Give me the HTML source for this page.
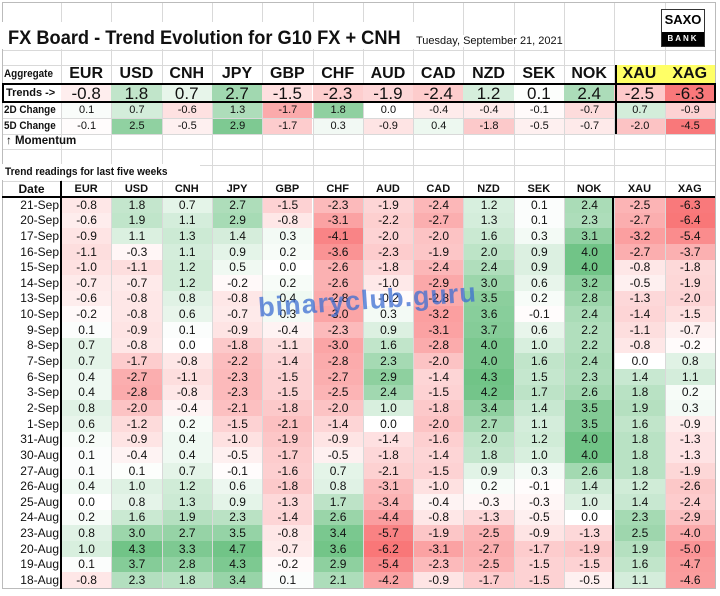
<!DOCTYPE html>
<html><head><meta charset="utf-8"><style>
body{margin:0;background:#fff;width:720px;height:596px;overflow:hidden;font-family:"Liberation Sans",sans-serif;}
#w{position:relative;width:720px;height:596px;}
.c{position:absolute;box-sizing:border-box;text-align:center;color:#111;white-space:nowrap;}
.g{position:absolute;background:#d9d9d9;}
.k{position:absolute;background:#000;}
</style></head><body><div id="w">
<div style="position:absolute;left:661px;top:9px;width:44px;height:38px;border:1px solid #333;box-sizing:border-box;background:#fff;z-index:3">
<div style="position:absolute;left:0;top:2px;width:42px;text-align:center;font:bold 13px 'Liberation Sans',sans-serif;">SAXO</div>
<div style="position:absolute;left:0;top:22px;width:42px;height:14px;background:#000;color:#fff;text-align:center;font:bold 8px 'Liberation Sans',sans-serif;letter-spacing:2px;line-height:14px;">BANK</div>
</div>
<div style="position:absolute;left:258px;top:285px;font:bold 27px 'Liberation Sans',sans-serif;color:rgba(60,110,210,0.75);transform:rotate(-4deg);letter-spacing:1px;z-index:5;">binaryclub.guru</div>
</div>
<script>
var W=document.getElementById('w');
function add(h){W.insertAdjacentHTML('beforeend',h);}
var cw=50.3,x0=61;
function cx(i){return x0+i*cw;}
var cur=["EUR","USD","CNH","JPY","GBP","CHF","AUD","CAD","NZD","SEK","NOK","XAU","XAG"];
function col(v,mx,mn){var t,r,g,b;if(v>=0){t=mx>0?v/mx:0;r=255+(99-255)*t;g=255+(190-255)*t;b=255+(123-255)*t;}else{t=mn<0?v/mn:0;r=255+(248-255)*t;g=255+(105-255)*t;b=255+(107-255)*t;}return 'rgb('+Math.round(r)+','+Math.round(g)+','+Math.round(b)+')';}
var hl=[50,65,84,102,118,134,149,165,181];
for(var i=0;i<hl.length;i++)add('<div class="g" style="left:2px;top:'+hl[i]+'px;width:713px;height:1px"></div>');
for(var i=0;i<=13;i++)add('<div class="g" style="left:'+Math.round(cx(i))+'px;top:2px;width:1px;height:586px"></div>');
add('<div style="position:absolute;left:2px;top:2px;width:714px;height:587px;border:1px solid #bbb;box-sizing:border-box"></div>');
add('<div class="c" style="left:0;top:22px;width:414px;height:27px;background:#fff"></div>');
add('<div class="c" style="left:8px;top:28px;font-size:19px;font-weight:bold;text-align:left;transform:scaleX(0.96);transform-origin:0 0;">FX Board - Trend Evolution for G10 FX + CNH</div>');
add('<div class="c" style="left:416px;top:35px;font-size:11px;text-align:left;background:#fff">Tuesday, September 21, 2021</div>');
add('<div class="c" style="left:616px;top:65px;width:99px;height:19px;background:#ffff66"></div>');
add('<div class="c" style="left:4px;top:68px;font-size:11px;font-weight:bold;text-align:left;transform:scaleX(0.9);transform-origin:0 0">Aggregate</div>');
for(var i=0;i<13;i++)add('<div class="c" style="left:'+cx(i)+'px;top:65px;width:'+cw+'px;font-size:16px;font-weight:bold;">'+cur[i]+'</div>');
var tr=[-0.8,1.8,0.7,2.7,-1.5,-2.3,-1.9,-2.4,1.2,0.1,2.4,-2.5,-6.3];
var d2=[0.1,0.7,-0.6,1.3,-1.7,1.8,0.0,-0.4,-0.4,-0.1,-0.7,0.7,-0.9];
var d5=[-0.1,2.5,-0.5,2.9,-1.7,0.3,-0.9,0.4,-1.8,-0.5,-0.7,-2.0,-4.5];
add('<div class="c" style="left:6px;top:87px;font-size:11px;font-weight:bold;text-align:left">Trends -&gt;</div>');
for(var i=0;i<13;i++)add('<div class="c" style="left:'+cx(i)+'px;top:85px;width:'+cw+'px;height:17px;background:'+col(tr[i],4.5,-7)+';font-size:17px;line-height:17px">'+tr[i].toFixed(1)+'</div>');
add('<div style="position:absolute;left:2px;top:83px;width:714px;height:20px;border:2px solid #000;box-sizing:border-box;z-index:2"></div>');
add('<div class="c" style="left:4px;top:104px;font-size:11px;font-weight:bold;text-align:left;transform:scaleX(0.9);transform-origin:0 0">2D Change</div>');
add('<div class="c" style="left:4px;top:120px;font-size:11px;font-weight:bold;text-align:left;transform:scaleX(0.9);transform-origin:0 0">5D Change</div>');
for(var i=0;i<13;i++){
add('<div class="c" style="left:'+(cx(i)+1)+'px;top:103px;width:'+(cw-1)+'px;height:15px;background:'+col(d2[i],2.5,-3)+';font-size:11px;line-height:15px">'+d2[i].toFixed(1)+'</div>');
add('<div class="c" style="left:'+(cx(i)+1)+'px;top:119px;width:'+(cw-1)+'px;height:15px;background:'+col(d5[i],3.5,-5)+';font-size:11px;line-height:15px">'+d5[i].toFixed(1)+'</div>');}
add('<div class="k" style="left:615px;top:65px;width:1.5px;height:69px"></div>');
add('<div class="c" style="left:6px;top:135px;font-size:11.5px;font-weight:bold;text-align:left">&#8593; Momentum</div>');
add('<div class="c" style="left:0;top:164px;width:200px;height:16px;background:#fff;"></div>');
add('<div class="c" style="left:5px;top:166px;font-size:11px;font-weight:bold;text-align:left;transform:scaleX(0.92);transform-origin:0 0">Trend readings for last five weeks</div>');
add('<div class="c" style="left:2px;top:182px;width:59px;font-size:12px;font-weight:bold;">Date</div>');
for(var i=0;i<13;i++)add('<div class="c" style="left:'+cx(i)+'px;top:183px;width:'+cw+'px;font-size:11px;font-weight:bold;">'+cur[i]+'</div>');
var D=[["21-Sep",-0.8,1.8,0.7,2.7,-1.5,-2.3,-1.9,-2.4,1.2,0.1,2.4,-2.5,-6.3],
["20-Sep",-0.6,1.9,1.1,2.9,-0.8,-3.1,-2.2,-2.7,1.3,0.1,2.3,-2.7,-6.4],
["17-Sep",-0.9,1.1,1.3,1.4,0.3,-4.1,-2.0,-2.0,1.6,0.3,3.1,-3.2,-5.4],
["16-Sep",-1.1,-0.3,1.1,0.9,0.2,-3.6,-2.3,-1.9,2.0,0.9,4.0,-2.7,-3.7],
["15-Sep",-1.0,-1.1,1.2,0.5,0.0,-2.6,-1.8,-2.4,2.4,0.9,4.0,-0.8,-1.8],
["14-Sep",-0.7,-0.7,1.2,-0.2,0.2,-2.6,-1.0,-2.9,3.0,0.6,3.2,-0.5,-1.9],
["13-Sep",-0.6,-0.8,0.8,-0.8,0.4,-2.8,-0.2,-2.8,3.5,0.2,2.8,-1.3,-2.0],
["10-Sep",-0.2,-0.8,0.6,-0.7,0.3,-3.0,0.3,-3.2,3.6,-0.1,2.4,-1.4,-1.5],
["9-Sep",0.1,-0.9,0.1,-0.9,-0.4,-2.3,0.9,-3.1,3.7,0.6,2.2,-1.1,-0.7],
["8-Sep",0.7,-0.8,0.0,-1.8,-1.1,-3.0,1.6,-2.8,4.0,1.0,2.2,-0.8,-0.2],
["7-Sep",0.7,-1.7,-0.8,-2.2,-1.4,-2.8,2.3,-2.0,4.0,1.6,2.4,0.0,0.8],
["6-Sep",0.4,-2.7,-1.1,-2.3,-1.5,-2.7,2.9,-1.4,4.3,1.5,2.3,1.4,1.1],
["3-Sep",0.4,-2.8,-0.8,-2.3,-1.5,-2.5,2.4,-1.5,4.2,1.7,2.6,1.8,0.2],
["2-Sep",0.8,-2.0,-0.4,-2.1,-1.8,-2.0,1.0,-1.8,3.4,1.4,3.5,1.9,0.3],
["1-Sep",0.6,-1.2,0.2,-1.5,-2.1,-1.4,0.0,-2.0,2.7,1.1,3.5,1.6,-0.9],
["31-Aug",0.2,-0.9,0.4,-1.0,-1.9,-0.9,-1.4,-1.6,2.0,1.2,4.0,1.8,-1.3],
["30-Aug",0.1,-0.4,0.4,-0.5,-1.7,-0.5,-1.8,-1.4,1.8,1.0,4.0,1.8,-1.3],
["27-Aug",0.1,0.1,0.7,-0.1,-1.6,0.7,-2.1,-1.5,0.9,0.3,2.6,1.8,-1.9],
["26-Aug",0.4,1.0,1.2,0.6,-1.8,0.8,-3.1,-1.0,0.2,-0.1,1.4,1.2,-2.6],
["25-Aug",0.0,0.8,1.3,0.9,-1.3,1.7,-3.4,-0.4,-0.3,-0.3,1.0,1.4,-2.4],
["24-Aug",0.2,1.6,1.9,2.3,-1.4,2.6,-4.4,-0.8,-1.3,-0.5,0.0,2.3,-2.9],
["23-Aug",0.8,3.0,2.7,3.5,-0.8,3.4,-5.7,-1.9,-2.5,-0.9,-1.3,2.5,-4.0],
["20-Aug",1.0,4.3,3.3,4.7,-0.7,3.6,-6.2,-3.1,-2.7,-1.7,-1.9,1.9,-5.0],
["19-Aug",0.1,3.7,2.8,4.3,-0.2,2.9,-5.4,-2.3,-2.5,-1.5,-1.5,1.6,-4.7],
["18-Aug",-0.8,2.3,1.8,3.4,0.1,2.1,-4.2,-0.9,-1.7,-1.5,-0.5,1.1,-4.6]];
var mx=[],mn=[];
for(var j=0;j<13;j++){mx[j]=0;mn[j]=0;for(var r=0;r<D.length;r++){var v=D[r][j+1];if(v>mx[j])mx[j]=v;if(v<mn[j])mn[j]=v;}mx[j]=Math.max(mx[j]*1.1,4);mn[j]=Math.min(mn[j]*1.1,-5);}
var y0=197,y1=588,n=D.length;
for(var r=0;r<n;r++){var yt=Math.round(y0+(y1-y0)*r/n),yb=Math.round(y0+(y1-y0)*(r+1)/n),h=yb-yt;
add('<div class="c" style="left:2px;top:'+yt+'px;width:57px;height:'+h+'px;font-size:12px;line-height:'+h+'px;text-align:right">'+D[r][0]+'</div>');
for(var j=0;j<13;j++){var v=D[r][j+1];
add('<div class="c" style="left:'+(cx(j)+1)+'px;top:'+yt+'px;width:'+(cw-1)+'px;height:'+h+'px;background:'+col(v,mx[j],mn[j])+';font-size:12px;line-height:'+h+'px">'+v.toFixed(1)+'</div>');}}
add('<div class="k" style="left:2px;top:196px;width:713px;height:2px"></div>');
add('<div class="k" style="left:60px;top:181px;width:1.5px;height:408px"></div>');
add('<div class="k" style="left:612px;top:197px;width:1.5px;height:392px"></div>');
</script>
</body></html>
